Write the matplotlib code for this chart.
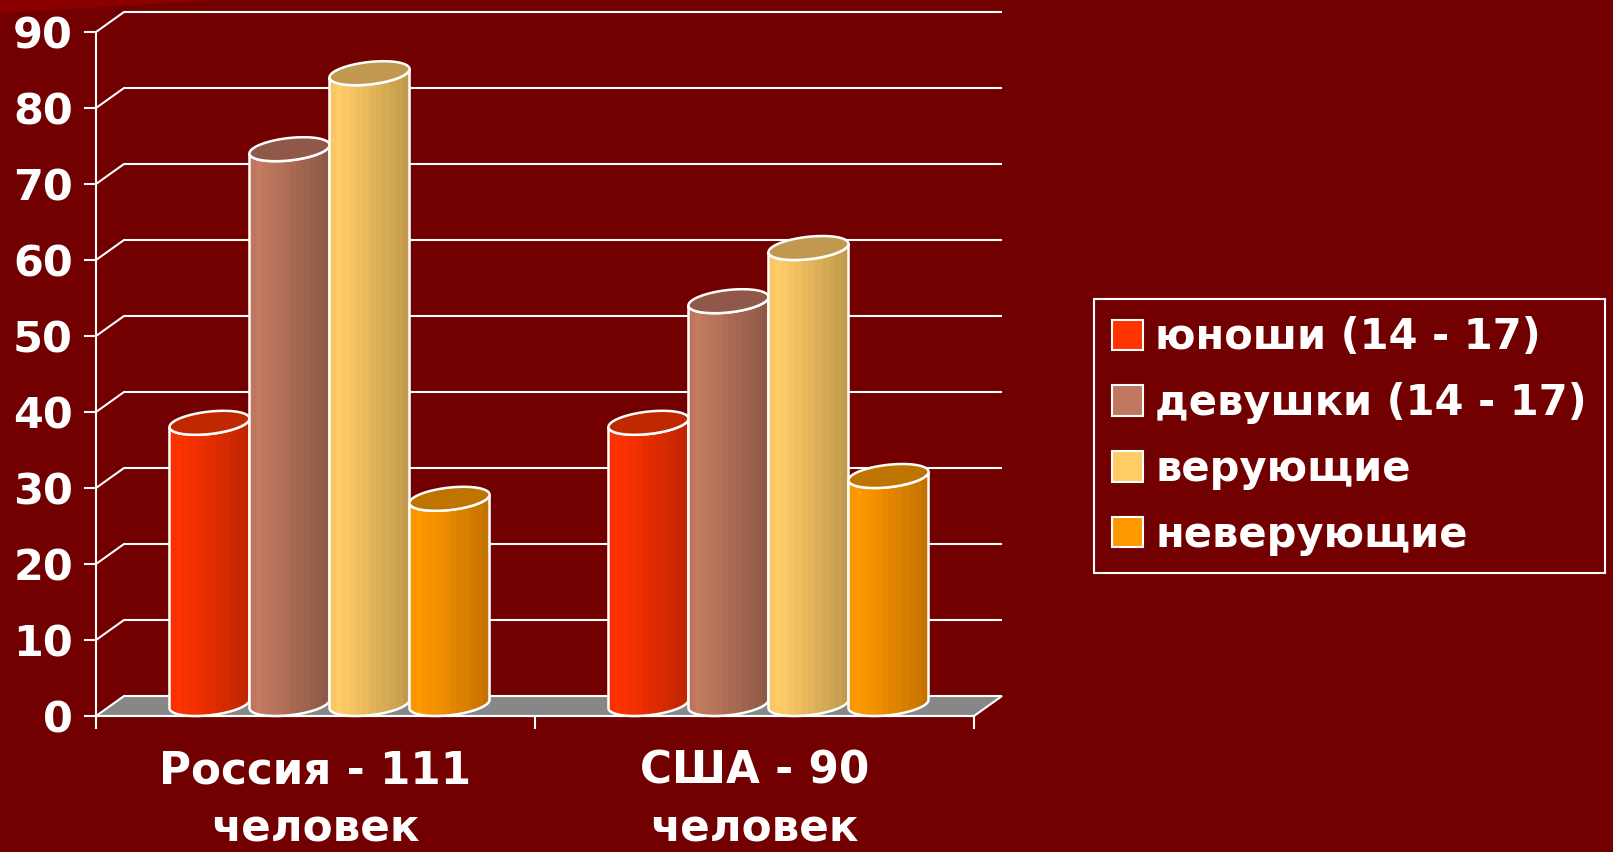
import numpy as np
import matplotlib
matplotlib.use('Agg')
import matplotlib.pyplot as plt
from matplotlib.patches import Polygon, Patch
from matplotlib.colors import to_rgb

# ---------------- data ----------------
categories = ['Россия - 111\nчеловек', 'США - 90\nчеловек']
series_names = ['юноши (14 - 17)', 'девушки (14 - 17)', 'верующие', 'неверующие']
boys = [37, 37]
girls = [73, 53]
believers = [83, 60]
nonbelievers = [27, 30]
yticks = [0, 10, 20, 30, 40, 50, 60, 70, 80, 90]

series_values = [boys, girls, believers, nonbelievers]

# ---------------- style ----------------
BG = '#720000'
legend_colors = ['#FF3300', '#C07860', '#FFCC66', '#FF9900']
light_colors = ['#FF3300', '#C27B61', '#FFCC66', '#FF9900']
dark_colors = ['#C02600', '#8E5947', '#C29A4E', '#C47300']
top_colors = ['#C02800', '#905848', '#C09850', '#C07400']

plt.rcParams['font.family'] = ['DejaVu Sans']
plt.rcParams['font.weight'] = 'bold'

W, H = 1613, 852
fig = plt.figure(figsize=(W / 100, H / 100), dpi=100, facecolor=BG)

# decorative lighter stripe in the top-left corner
fig.patches.append(Polygon([(0, 1), (220 / W, 1), (0, (H - 13) / H)], closed=True,
                           transform=fig.transFigure, facecolor='#8A0000',
                           edgecolor='none', zorder=0))

ax_left, ax_right, ax_top, ax_bottom = 96, 974, 32, 716
ax = fig.add_axes([ax_left / W, (H - ax_bottom) / H,
                   (ax_right - ax_left) / W, (ax_bottom - ax_top) / H])
ax.set_facecolor('none')

XMIN, XMAX = -0.5, len(categories) - 0.5
YMIN, YMAX = 0, 90
px_x = (ax_right - ax_left) / (XMAX - XMIN)
px_y = (ax_bottom - ax_top) / (YMAX - YMIN)

DX = 28 / px_x           # depth offset (x units)
DY = 20 / px_y           # depth offset (y units)
CDY = 24 / px_y          # vertical extent of a cylinder cap
step = 80 / px_x         # bar slot width
r = 37.5 / px_x          # cylinder radius (x units)
a = DX / 2               # half-depth shift (x units)

# back wall grid lines
for v in yticks[1:]:
    ax.plot([XMIN, XMIN + DX, XMAX + DX], [v, v + DY, v + DY],
            color='white', lw=1.5, clip_on=False, zorder=1,
            solid_capstyle='butt')

# floor
ax.add_patch(Polygon([(XMIN, 0), (XMAX, 0), (XMAX + DX, DY), (XMIN + DX, DY)],
                     closed=True, facecolor='#878787', edgecolor='white',
                     lw=1.5, clip_on=False, zorder=1.5))

profile = np.array([0.10, 0.0, 0.08, 0.16, 0.26, 0.36, 0.48, 0.58,
                    0.68, 0.78, 0.88, 1.0])


def ellipse_pts(xc, level, ts):
    x = xc + r * np.cos(ts) + a * np.sin(ts)
    y = level + CDY / 2 + (CDY / 2) * np.sin(ts)
    return np.column_stack([x, y])


def cylinder(xc, v, light, dark, topc, z):
    t0 = np.arctan2(a, r)
    ts = np.linspace(t0 + np.pi, t0 + 2 * np.pi, 80)
    bottom = ellipse_pts(xc, 0, ts)
    top = ellipse_pts(xc, v, ts[::-1])
    body = np.vstack([bottom, top])
    outline = Polygon(body, closed=True, facecolor='none', edgecolor='white',
                      lw=1.8, clip_on=False, zorder=z + 0.2)
    ax.add_patch(outline)
    half = np.hypot(r, a)
    lc, dc = np.array(to_rgb(light)), np.array(to_rgb(dark))
    cols = lc[None, :] * (1 - profile[:, None]) + dc[None, :] * profile[:, None]
    img = ax.imshow(cols[None, :, :], extent=[xc - half, xc + half, 0, v + CDY],
                    aspect='auto', interpolation='nearest', origin='lower',
                    zorder=z)
    img.set_clip_path(outline)
    full = ellipse_pts(xc, v, np.linspace(0, 2 * np.pi, 120))
    ax.add_patch(Polygon(full, closed=True, facecolor=topc, edgecolor='white',
                         lw=1.8, clip_on=False, zorder=z + 0.3))


z = 3
for ci in range(len(categories)):
    for si, vals in enumerate(series_values):
        xc = ci + (si - 1.5) * step + DX / 2
        cylinder(xc, vals[ci], light_colors[si], dark_colors[si],
                 top_colors[si], z)
        z += 1

ax.set_xlim(XMIN, XMAX)
ax.set_ylim(YMIN, YMAX)

# axes
for s in ['top', 'right']:
    ax.spines[s].set_visible(False)
for s in ['left', 'bottom']:
    ax.spines[s].set_color('white')
    ax.spines[s].set_linewidth(1.5)
    ax.spines[s].set_zorder(2)

ax.set_yticks(yticks)
ax.set_yticklabels([str(t) for t in yticks])
ax.tick_params(axis='y', colors='white', length=8.6, width=1.5, pad=8.0,
               labelsize=31, direction='out')

ax.set_xticks(range(len(categories)))
ax.set_xticklabels(categories)
ax.set_xticks([XMIN + i for i in range(len(categories) + 1)], minor=True)
ax.tick_params(axis='x', which='major', length=0, pad=24, labelsize=31.5,
               colors='white')
ax.tick_params(axis='x', which='minor', length=9, width=1.5, color='white',
               direction='out')
for lbl in ax.get_xticklabels():
    lbl.set_linespacing(1.45)
    lbl.set_fontweight('bold')
for lbl in ax.get_yticklabels():
    lbl.set_fontweight('bold')

# legend
handles = [Patch(facecolor=c, edgecolor='white', lw=1.5) for c in legend_colors]
leg = fig.legend(handles, series_names, loc='upper left',
                 bbox_to_anchor=(1094 / W, (H - 299) / H),
                 bbox_transform=fig.transFigure, frameon=True, fancybox=False,
                 edgecolor='white', facecolor=BG, framealpha=1,
                 prop=dict(weight='bold', size=30), labelcolor='white',
                 handlelength=0.75, handleheight=0.75, handletextpad=0.3,
                 labelspacing=0.57, borderpad=0.42, borderaxespad=0)
leg.get_frame().set_linewidth(1.5)

fig.savefig('out.png', dpi=100, facecolor=BG)
